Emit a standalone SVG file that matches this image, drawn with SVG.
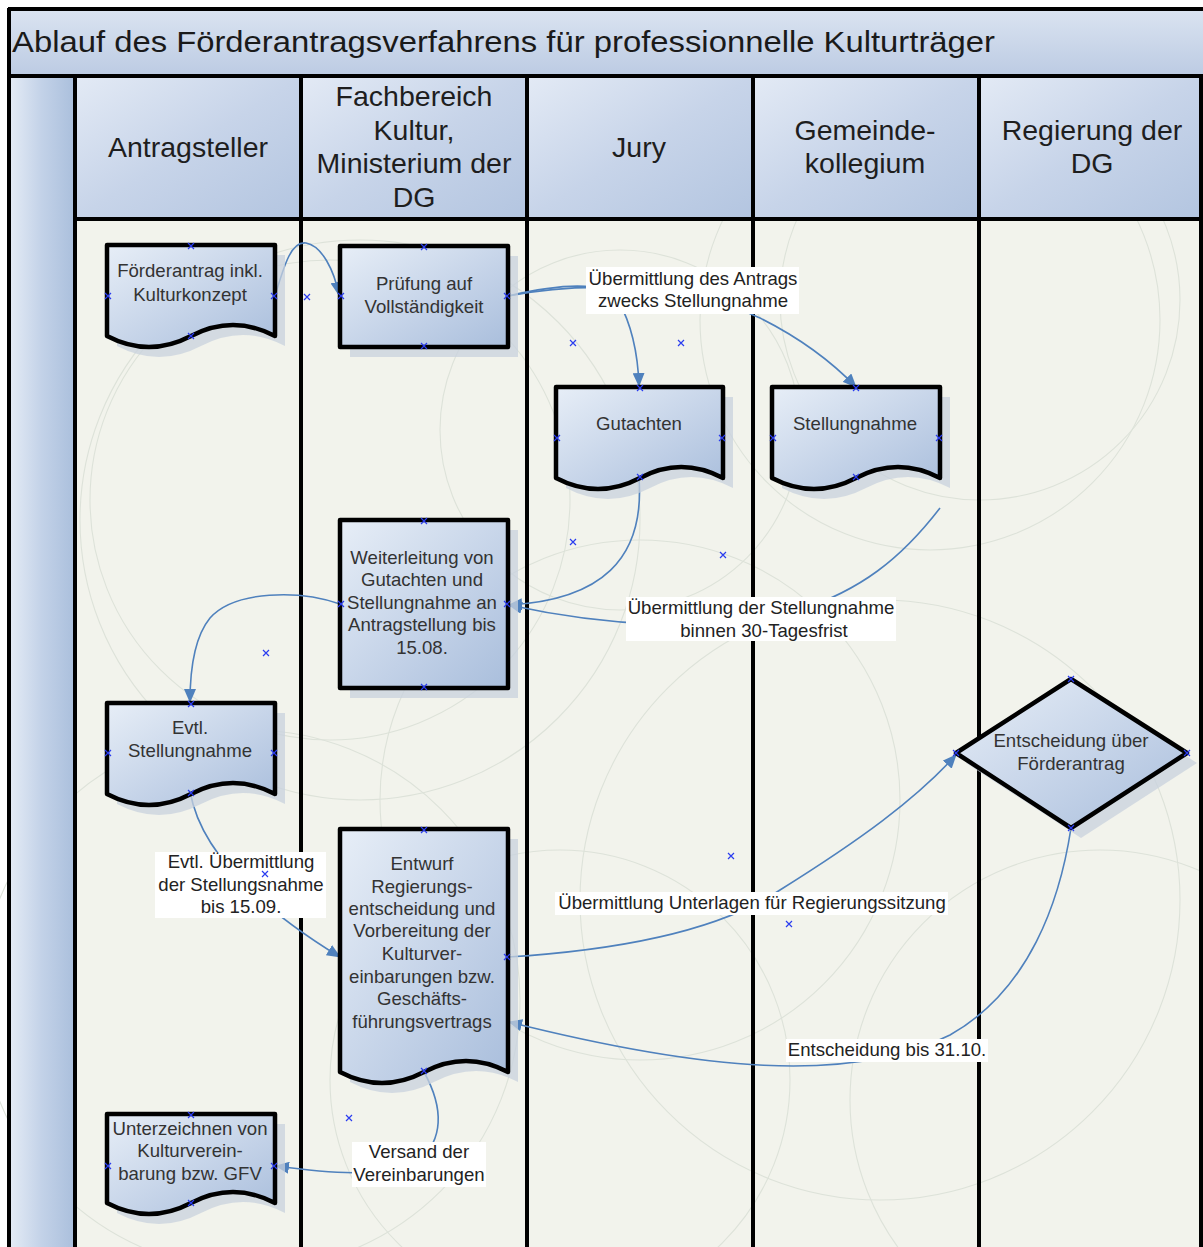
<svg xmlns="http://www.w3.org/2000/svg" width="1203" height="1247" viewBox="0 0 1203 1247">
<style>
.title{font-family:"Liberation Sans",Arial,sans-serif;font-size:30px;fill:#1a1a1a}
.hdr{font-family:"Liberation Sans",Arial,sans-serif;font-size:28.5px;fill:#1e1e1e;text-anchor:middle}
.nt{font-family:"Liberation Sans",Arial,sans-serif;font-size:18.6px;fill:#333;text-anchor:middle}
.lt{font-family:"Liberation Sans",Arial,sans-serif;font-size:18.6px;fill:#222;text-anchor:middle}
.shape{fill:url(#nodeGrad);stroke:#000;stroke-width:4.5;stroke-linejoin:round}
.shadow{fill:#c8d2de;opacity:0.75}
.conn{fill:none;stroke:#4f81bd;stroke-width:1.6}
.lbl{fill:#fff}
.sep{stroke:#000;stroke-width:4;fill:none}
.circ{fill:none;stroke:#dde2d9;stroke-width:1.1}
.xm{stroke:#2a3cf0;stroke-width:1.2;fill:none}
</style>
<defs>
<linearGradient id="nodeGrad" x1="0" y1="0" x2="1" y2="1">
<stop offset="0" stop-color="#e7eef7"/>
<stop offset="0.6" stop-color="#c2d1e7"/>
<stop offset="1" stop-color="#a9bedc"/>
</linearGradient>
<linearGradient id="hdrGrad" x1="0" y1="0" x2="1" y2="1">
<stop offset="0" stop-color="#e3eaf5"/>
<stop offset="0.5" stop-color="#c7d4e9"/>
<stop offset="1" stop-color="#b3c5e0"/>
</linearGradient>
<linearGradient id="titleGrad" x1="0" y1="0" x2="0" y2="1">
<stop offset="0" stop-color="#dbe4f1"/>
<stop offset="1" stop-color="#bccbe3"/>
</linearGradient>
<linearGradient id="stripGrad" x1="0" y1="0" x2="1" y2="0">
<stop offset="0" stop-color="#e6edf6"/>
<stop offset="0.5" stop-color="#c3d2e8"/>
<stop offset="1" stop-color="#aabfdc"/>
</linearGradient>
<marker id="arr" viewBox="0 0 14 12" refX="13" refY="6" markerWidth="14" markerHeight="12" markerUnits="userSpaceOnUse" orient="auto">
<path d="M0,0 L14,6 L0,12 Z" fill="#4f81bd"/>
</marker>
<path id="xm" d="M-3,-3 L3,3 M-3,3 L3,-3" class="xm"/>
</defs>

<g id="background">
<rect x="8" y="8" width="1195" height="1239" fill="#f2f3ec"/>
<g id="decor">
<circle class="circ" cx="330" cy="500" r="240"/>
<circle class="circ" cx="360" cy="520" r="280"/>
<circle class="circ" cx="620" cy="430" r="180"/>
<circle class="circ" cx="930" cy="320" r="230"/>
<circle class="circ" cx="980" cy="300" r="200"/>
<circle class="circ" cx="640" cy="800" r="260"/>
<circle class="circ" cx="880" cy="900" r="300"/>
<circle class="circ" cx="250" cy="1000" r="270"/>
<circle class="circ" cx="560" cy="1080" r="230"/>
<circle class="circ" cx="1100" cy="1100" r="250"/>
</g>
<rect x="8" y="8" width="1195" height="68" fill="url(#titleGrad)"/>
<rect x="8" y="76" width="67" height="1171" fill="url(#stripGrad)"/>
<rect x="75" y="77" width="226" height="142" fill="url(#hdrGrad)"/>
<rect x="301" y="77" width="226" height="142" fill="url(#hdrGrad)"/>
<rect x="527" y="77" width="226" height="142" fill="url(#hdrGrad)"/>
<rect x="753" y="77" width="226" height="142" fill="url(#hdrGrad)"/>
<rect x="979" y="77" width="224" height="142" fill="url(#hdrGrad)"/>
</g>

<g id="frame">
<path class="sep" d="M8,9 H1203 M9,8 V1247 M8,76 H1203 M75,219 H1203"/>
<path class="sep" d="M75,76 V1247 M301,76 V1247 M527,76 V1247 M753,76 V1247 M979,76 V1247 M1201,76 V1247"/>
</g>

<g id="headers">
<text class="title" x="12" y="52" textLength="983" lengthAdjust="spacingAndGlyphs">Ablauf des Förderantragsverfahrens für professionnelle Kulturträger</text>
<text class="hdr" x="188" y="157">Antragsteller</text>
<text class="hdr" x="414" y="106">Fachbereich</text>
<text class="hdr" x="414" y="140">Kultur,</text>
<text class="hdr" x="414" y="173">Ministerium der</text>
<text class="hdr" x="414" y="207">DG</text>
<text class="hdr" x="639" y="157">Jury</text>
<text class="hdr" x="865" y="140">Gemeinde-</text>
<text class="hdr" x="865" y="173">kollegium</text>
<text class="hdr" x="1092" y="140">Regierung der</text>
<text class="hdr" x="1092" y="173">DG</text>
</g>

<g id="connectors">
<path class="conn" marker-end="url(#arr)" d="M275,296 C285,262 292,241 306,243 C322,246 334,270 339,295"/>
<path class="conn" marker-end="url(#arr)" d="M508,296 C560,284 605,280 618,300 C632,325 638,355 639,386"/>
<path class="conn" marker-end="url(#arr)" d="M508,296 C600,278 700,290 760,318 C800,338 830,360 856,387"/>
<path class="conn" marker-end="url(#arr)" d="M639,478 C645,560 600,600 509,605"/>
<path class="conn" marker-end="url(#arr)" d="M940,508 C900,560 860,590 800,610 C720,635 600,625 509,605"/>
<path class="conn" marker-end="url(#arr)" d="M340,604 C300,590 235,590 210,618 C192,640 190,680 190,702"/>
<path class="conn" marker-end="url(#arr)" d="M190,791 C200,850 255,905 340,957"/>
<path class="conn" marker-end="url(#arr)" d="M508,957 C620,950 720,930 780,890 C860,840 915,800 956,755"/>
<path class="conn" marker-end="url(#arr)" d="M1071,828 C1060,900 1030,990 950,1035 C850,1085 700,1070 509,1022"/>
<path class="conn" marker-end="url(#arr)" d="M424,1072 C445,1110 442,1140 420,1160 C390,1180 320,1172 276,1166"/>
<g id="labels">
<rect class="lbl" x="586" y="267" width="213" height="47"/>
<text class="lt" x="693" y="285">Übermittlung des Antrags</text>
<text class="lt" x="693" y="307">zwecks Stellungnahme</text>
<rect class="lbl" x="626" y="597" width="270" height="44"/>
<text class="lt" x="761" y="614">Übermittlung der Stellungnahme</text>
<text class="lt" x="764" y="637">binnen 30-Tagesfrist</text>
<rect class="lbl" x="155" y="852" width="171" height="66"/>
<text class="lt" x="241" y="868">Evtl. Übermittlung</text>
<text class="lt" x="241" y="891">der Stellungsnahme</text>
<text class="lt" x="241" y="913">bis 15.09.</text>
<rect class="lbl" x="555" y="892" width="393" height="23"/>
<text class="lt" x="752" y="909">Übermittlung Unterlagen für Regierungssitzung</text>
<rect class="lbl" x="786" y="1039" width="202" height="23"/>
<text class="lt" x="887" y="1056">Entscheidung bis 31.10.</text>
<rect class="lbl" x="352" y="1142" width="134" height="45"/>
<text class="lt" x="419" y="1158">Versand der</text>
<text class="lt" x="419" y="1181">Vereinbarungen</text>
</g>
</g>

<g id="n1">
<path class="shadow" d="M117,255 H285 V346 Q243,324 201,346 Q159,368 117,346 Z"/>
<path class="shape" d="M107,245 H275 V336 Q233,314 191,336 Q149,358 107,336 Z"/>
<text class="nt" x="190" y="277">Förderantrag inkl.</text>
<text class="nt" x="190" y="301">Kulturkonzept</text>
</g>
<g id="n2">
<rect class="shadow" x="350" y="256" width="168" height="101"/>
<rect class="shape" x="340" y="246" width="168" height="101"/>
<text class="nt" x="424" y="290">Prüfung auf</text>
<text class="nt" x="424" y="313">Vollständigkeit</text>
</g>
<g id="n3">
<path class="shadow" d="M566,397 H733 V488 Q691,466 650,488 Q608,510 566,488 Z"/>
<path class="shape" d="M556,387 H723 V478 Q681,456 640,478 Q598,500 556,478 Z"/>
<text class="nt" x="639" y="430">Gutachten</text>
</g>
<g id="n4">
<path class="shadow" d="M782,397 H950 V488 Q908,466 866,488 Q824,510 782,488 Z"/>
<path class="shape" d="M772,387 H940 V478 Q898,456 856,478 Q814,500 772,478 Z"/>
<text class="nt" x="855" y="430">Stellungnahme</text>
</g>
<g id="n5">
<rect class="shadow" x="350" y="530" width="168" height="168"/>
<rect class="shape" x="340" y="520" width="168" height="168"/>
<text class="nt" x="422" y="564">Weiterleitung von</text>
<text class="nt" x="422" y="586">Gutachten und</text>
<text class="nt" x="422" y="609">Stellungnahme an</text>
<text class="nt" x="422" y="631">Antragstellung bis</text>
<text class="nt" x="422" y="654">15.08.</text>
</g>
<g id="n6">
<path class="shadow" d="M117,713 H285 V804 Q243,782 201,804 Q159,826 117,804 Z"/>
<path class="shape" d="M107,703 H275 V794 Q233,772 191,794 Q149,816 107,794 Z"/>
<text class="nt" x="190" y="734">Evtl.</text>
<text class="nt" x="190" y="757">Stellungnahme</text>
</g>
<g id="n7">
<path class="shadow" d="M350,839 H518 V1082 Q476,1060 434,1082 Q392,1104 350,1082 Z"/>
<path class="shape" d="M340,829 H508 V1072 Q466,1050 424,1072 Q382,1094 340,1072 Z"/>
<text class="nt" x="422" y="870">Entwurf</text>
<text class="nt" x="422" y="893">Regierungs-</text>
<text class="nt" x="422" y="915">entscheidung und</text>
<text class="nt" x="422" y="937">Vorbereitung der</text>
<text class="nt" x="422" y="960">Kulturver-</text>
<text class="nt" x="422" y="983">einbarungen bzw.</text>
<text class="nt" x="422" y="1005">Geschäfts-</text>
<text class="nt" x="422" y="1028">führungsvertrags</text>
</g>
<g id="n8">
<path class="shadow" d="M1081,689 L1197,763 L1081,838 L966,763 Z"/>
<path class="shape" d="M1071,679 L1187,753 L1071,828 L956,753 Z"/>
<text class="nt" x="1071" y="747">Entscheidung über</text>
<text class="nt" x="1071" y="770">Förderantrag</text>
</g>
<g id="n9">
<path class="shadow" d="M117,1124 H285 V1213 Q243,1191 201,1213 Q159,1235 117,1213 Z"/>
<path class="shape" d="M107,1114 H275 V1203 Q233,1181 191,1203 Q149,1225 107,1203 Z"/>
<text class="nt" x="190" y="1135">Unterzeichnen von</text>
<text class="nt" x="190" y="1157">Kulturverein-</text>
<text class="nt" x="190" y="1180">barung bzw. GFV</text>
</g>

<g id="points">
<use href="#xm" x="191" y="246"/><use href="#xm" x="191" y="336"/><use href="#xm" x="108" y="296"/><use href="#xm" x="274" y="296"/>
<use href="#xm" x="424" y="247"/><use href="#xm" x="424" y="346"/><use href="#xm" x="341" y="296"/><use href="#xm" x="507" y="296"/>
<use href="#xm" x="640" y="388"/><use href="#xm" x="640" y="477"/><use href="#xm" x="557" y="438"/><use href="#xm" x="722" y="438"/>
<use href="#xm" x="856" y="388"/><use href="#xm" x="856" y="477"/><use href="#xm" x="773" y="438"/><use href="#xm" x="939" y="438"/>
<use href="#xm" x="424" y="521"/><use href="#xm" x="424" y="687"/><use href="#xm" x="341" y="604"/><use href="#xm" x="507" y="604"/>
<use href="#xm" x="191" y="704"/><use href="#xm" x="191" y="793"/><use href="#xm" x="108" y="753"/><use href="#xm" x="274" y="753"/>
<use href="#xm" x="424" y="830"/><use href="#xm" x="424" y="1071"/><use href="#xm" x="507" y="957"/>
<use href="#xm" x="1071" y="679"/><use href="#xm" x="1071" y="828"/><use href="#xm" x="956" y="753"/><use href="#xm" x="1187" y="753"/>
<use href="#xm" x="191" y="1115"/><use href="#xm" x="191" y="1203"/><use href="#xm" x="108" y="1166"/><use href="#xm" x="274" y="1166"/>
<use href="#xm" x="307" y="297"/><use href="#xm" x="573" y="343"/><use href="#xm" x="681" y="343"/><use href="#xm" x="573" y="542"/>
<use href="#xm" x="723" y="555"/><use href="#xm" x="266" y="653"/><use href="#xm" x="731" y="856"/><use href="#xm" x="789" y="924"/>
<use href="#xm" x="265" y="874"/><use href="#xm" x="349" y="1118"/>
</g>
</svg>
